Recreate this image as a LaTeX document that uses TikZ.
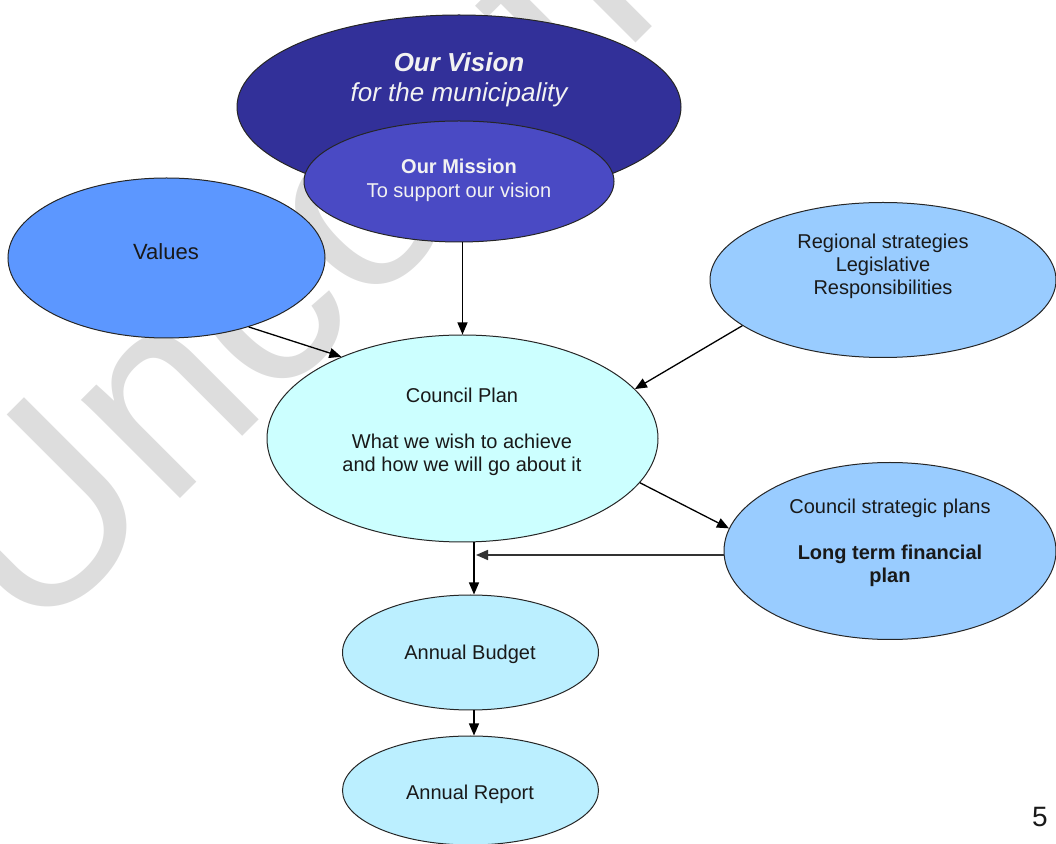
\documentclass[tikz,border=0pt]{standalone}
\usepackage{fontspec}
\setmainfont{Liberation Sans}
\usepackage{tikz}
\usetikzlibrary{arrows.meta}
\usetikzlibrary{shapes.geometric}
\definecolor{visionblue}{HTML}{323099}
\definecolor{missionblue}{HTML}{4A4AC4}
\definecolor{valuesblue}{HTML}{5C97FF}
\definecolor{lightblue}{HTML}{99CCFF}
\definecolor{paleaqua}{HTML}{CCFFFF}
\definecolor{paleblue}{HTML}{BBEFFF}
\definecolor{wmgray}{HTML}{DDDDDD}
\tikzset{>={Triangle[length=6pt,width=5pt]}}
\tikzstyle{oval} = [ellipse, draw=black!85, line width=0.5pt, inner sep=0]
\tikzstyle{txt} = [draw=none, inner sep=0, align=center, text=black!90, font=\fontsize{10}{11.5}\selectfont]
\tikzstyle{arr} = [->, line width=0.65pt]
\tikzstyle{watermark} = [draw=none, inner sep=0, text=wmgray, font=\fontsize{132}{132}\selectfont]

\begin{document}
\begin{tikzpicture}[x=0.5pt, y=-0.5pt]
\useasboundingbox (0,0) rectangle (1056,844);
% watermark behind everything
\begin{scope}
\clip (0,0) rectangle (1056,844);
\node [watermark, rotate=45, anchor=base west] (wm) at (32,647) {Unconfirmed};
\end{scope}
% ovals
\node [oval, fill=visionblue, minimum width=222pt, minimum height=92pt] (vision) at (459,107) {};
\node [oval, fill=missionblue, minimum width=155pt, minimum height=60.5pt] (mission) at (459,181.5) {};
\node [oval, fill=valuesblue, minimum width=158.5pt, minimum height=80pt] (values) at (166.5,258) {};
\node [oval, fill=lightblue, minimum width=173pt, minimum height=77.5pt] (regional) at (883,280) {};
\node [oval, fill=paleaqua, minimum width=195.5pt, minimum height=103.5pt] (council) at (462.5,438.5) {};
\node [oval, fill=lightblue, minimum width=166pt, minimum height=88.5pt] (strategic) at (890,551) {};
\node [oval, fill=paleblue, minimum width=128pt, minimum height=57.5pt] (budget) at (470.5,652.5) {};
\node [oval, fill=paleblue, minimum width=128pt, minimum height=54.5pt] (report) at (470.5,790.5) {};
% texts
\node [txt, text=white!95!black, font=\fontsize{13}{15}\selectfont\itshape] (vision-txt) at (459,80) {\textbf{Our Vision}\\for the municipality};
\node [txt, text=white!95!black, font=\fontsize{10}{12}\selectfont] (mission-txt) at (459,180.5) {\textbf{Our Mission}\\To support our vision};
\node [txt, font=\fontsize{11}{13}\selectfont] (values-txt) at (166,251.5) {Values};
\node [txt] (regional-txt) at (883,266.5) {Regional strategies\\Legislative\\Responsibilities};
\node [txt] (council-txt) at (462,431.5) {Council Plan\\[11.5pt]What we wish to achieve\\and how we will go about it};
\node [txt] (strategic-txt) at (890,542.5) {Council strategic plans\\[11.5pt]\textbf{Long term financial}\\\textbf{plan}};
\node [txt] (budget-txt) at (470,654) {Annual Budget};
\node [txt] (report-txt) at (470,794) {Annual Report};
\node [txt, font=\fontsize{14}{16}\selectfont] (page) at (1040,817) {5};
% connectors
\coordinate (join) at (474,555);
\draw [arr] (council.north |- mission.south) -- (council.north);
\draw [arr] (values.-40) -- (council.146);
\draw [arr] (regional.198) -- (council.16);
\draw [arr] (council.-14) -- (strategic.172);
\draw [arr, line width=0.8pt, draw=black!80] (strategic.west |- join) -- ([xshift=1pt]join);
\draw [arr] (council.south -| join) -- (budget.north -| join);
\draw [arr] (budget.south -| join) -- (report.north -| join);
\end{tikzpicture}
\end{document}
